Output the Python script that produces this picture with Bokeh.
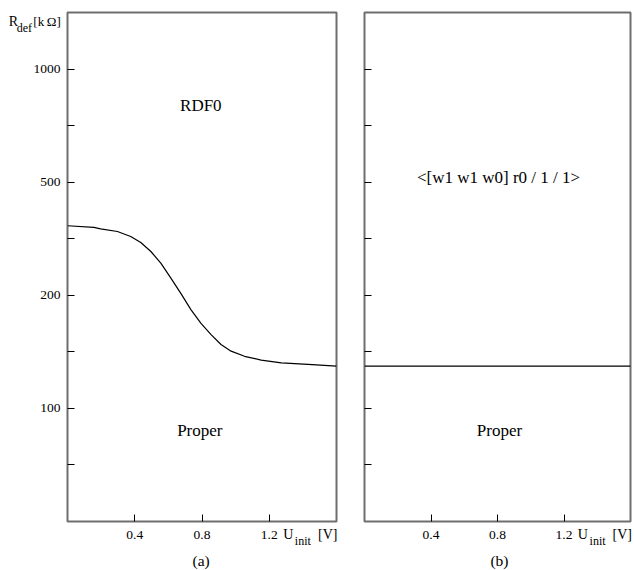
import numpy as np
from bokeh.plotting import figure
from bokeh.layouts import row
from bokeh.models import FixedTicker
from bokeh.core.properties import value
from bokeh.embed import file_html
from bokeh.resources import INLINE

# ---- data ----
u_init_a = [0.0, 0.157, 0.197, 0.297, 0.376, 0.436, 0.496, 0.555, 0.615, 0.675,
            0.734, 0.794, 0.854, 0.913, 0.973, 1.053, 1.152, 1.272, 1.431, 1.6]
r_def_a = [351.3, 346.6, 342.7, 335.2, 321.9, 306.7, 285.1, 259.5, 229.8, 202.6,
           183.2, 168.4, 157.2, 147.9, 142.0, 137.6, 134.4, 132.1, 130.9, 129.5]
u_init_b = [0.0, 1.6]
r_def_b = [129.5, 129.5]

y_tick_values = [100, 200, 500, 1000]
y_tick_labels = ["100", "200", "500", "1000"]
y_tick_slots = [2, 4, 6, 8]          # evenly spaced axis slots of the labelled values
y_minor_slots = [1, 3, 5, 7]
x_tick_values = [0.4, 0.8, 1.2]
x_tick_labels = ["0.4", "0.8", "1.2"]

FONT = "Liberation Serif"


def r_to_slot(r):
    """Map resistance [kOhm] onto the chart's evenly spaced 100/200/500/1000 axis."""
    return np.interp(np.log10(np.asarray(r, dtype=float)),
                     np.log10(y_tick_values), y_tick_slots)


def style(p, show_y_labels):
    p.grid.visible = False
    p.outline_line_color = "#6e6e6e"
    p.outline_line_width = 2
    p.background_fill_color = "white"
    p.border_fill_color = "white"

    xa = p.xaxis[0]
    xa.ticker = FixedTicker(ticks=x_tick_values)
    xa.major_label_overrides = {v: s for v, s in zip(x_tick_values, x_tick_labels)}
    xa.axis_line_color = None
    xa.major_tick_in = 7
    xa.major_tick_out = 0
    xa.major_tick_line_color = "black"
    xa.minor_tick_line_color = None
    xa.major_label_text_font = FONT
    xa.major_label_text_font_size = "13.5px"
    xa.major_label_text_color = "black"
    xa.major_label_standoff = 9

    ya = p.yaxis[0]
    ticks = sorted(y_tick_slots + y_minor_slots)
    ya.ticker = FixedTicker(ticks=ticks)
    over = {t: "" for t in ticks}
    if show_y_labels:
        for t, s in zip(y_tick_slots, y_tick_labels):
            over[t] = s
    ya.major_label_overrides = over
    ya.axis_line_color = None
    ya.major_tick_in = 7
    ya.major_tick_out = 0
    ya.major_tick_line_color = "black"
    ya.minor_tick_line_color = None
    ya.major_label_text_font = FONT
    ya.major_label_text_color = "black"
    if show_y_labels:
        ya.major_label_text_font_size = "13.5px"
        ya.major_label_standoff = 7
    else:
        ya.major_label_text_font_size = "0px"
        ya.major_label_standoff = 0


def lab(p, x, y, text, size, align="left"):
    p.text(x=[x], y=[y], text=[text], text_font=value(FONT),
           text_font_size=value(size), text_color="black",
           text_align=align, text_baseline="alphabetic", level="overlay")


# ---- panel (a) ----
p1 = figure(width=350, height=570, x_range=(0, 1.6), y_range=(0, 9),
            output_backend="svg", toolbar_location=None,
            min_border_left=67, min_border_right=14,
            min_border_top=12, min_border_bottom=49)
style(p1, True)
p1.line(u_init_a, r_to_slot(r_def_a), line_color="black", line_width=1.2)

lab(p1, 0.793, 7.36, "RDF0", "17px", "center")
lab(p1, 0.787, 1.606, "Proper", "17px", "center")
lab(p1, 0.795, -0.69, "(a)", "15.5px", "center")
lab(p1, 1.283, -0.23, "U", "14px")
lab(p1, 1.352, -0.336, "init", "12px")
lab(p1, 1.49, -0.23, "[V]", "14px")
lab(p1, -0.35, 8.84, "R", "14px")
lab(p1, -0.302, 8.734, "def", "12px")
lab(p1, -0.203, 8.84, "[k\u2009\u03a9]", "13px")

# ---- panel (b) ----
p2 = figure(width=284, height=570, x_range=(0, 1.6), y_range=(0, 9),
            output_backend="svg", toolbar_location=None,
            min_border_left=14, min_border_right=4,
            min_border_top=12, min_border_bottom=49)
style(p2, False)
p2.line(u_init_b, r_to_slot(r_def_b), line_color="black", line_width=1.2)

lab(p2, 0.806, 6.086, "<[w1 w1 w0] r0 / 1 / 1>", "17px", "center")
lab(p2, 0.812, 1.606, "Proper", "17px", "center")
lab(p2, 0.812, -0.69, "(b)", "15.5px", "center")
lab(p2, 1.283, -0.23, "U", "14px")
lab(p2, 1.354, -0.336, "init", "12px")
lab(p2, 1.492, -0.23, "[V]", "14px")

layout = row(p1, p2)

open("out.html", "w").write(file_html(layout, INLINE))
